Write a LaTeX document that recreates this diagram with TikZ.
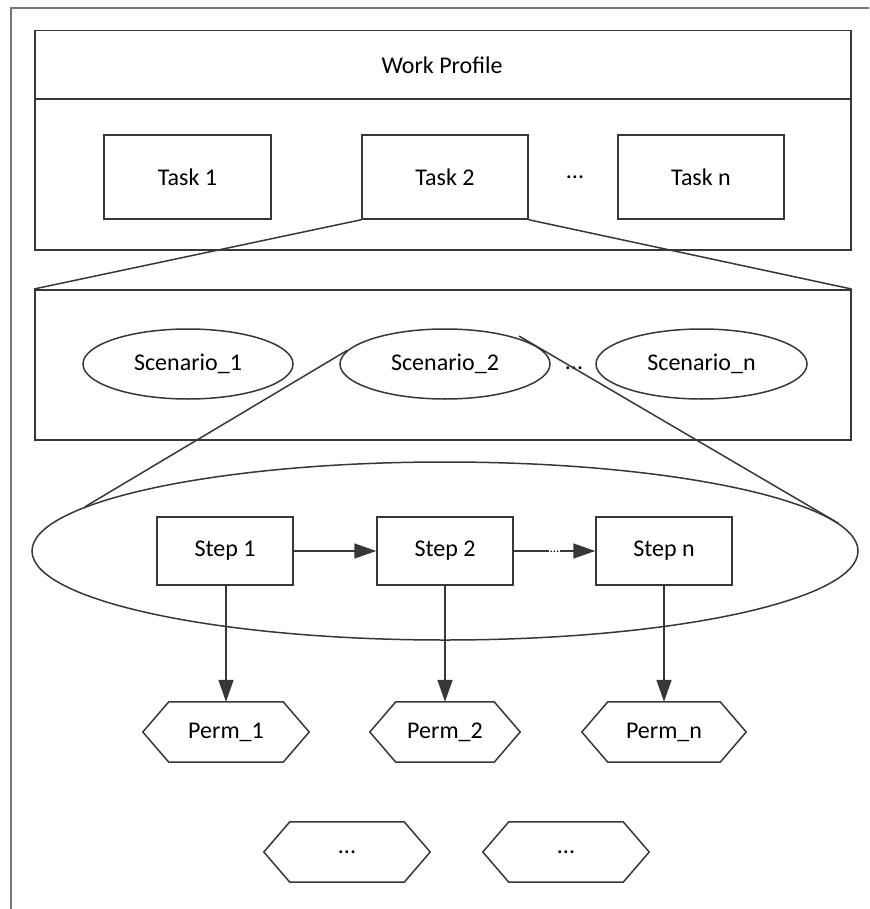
\documentclass[tikz,border=0pt]{standalone}
\usepackage{fontspec}
\setmainfont{Carlito}
\usetikzlibrary{arrows.meta,shapes.geometric}
\definecolor{edgegray}{RGB}{55,55,55}
\definecolor{framegray}{RGB}{120,120,120}
\begin{document}
\begin{tikzpicture}[x=1pt,y=-1pt,
  txt/.style={font=\fontsize{24}{28}\selectfont},
  plain/.style={draw=edgegray,line width=1.5pt},
  panel/.style={plain,rectangle,inner sep=0pt,anchor=north west},
  stepbox/.style={plain,rectangle,inner sep=0pt,txt},
  scen/.style={plain,ellipse,inner sep=0pt,minimum width=210pt,minimum height=70pt,txt},
  hexslot/.style={rectangle,inner sep=0pt,minimum width=166pt,minimum height=60pt,txt},
  flow/.style={plain,-{Triangle[length=22pt,width=15pt]}},
]
\useasboundingbox (0,0) rectangle (869,909);

% outer page frame (runs off the right and bottom edges)
\begin{scope}
\clip (0,0) rectangle (869,909);
\draw[framegray,line width=2.2pt] (11,920) -- (11,8) -- (880,8);
\end{scope}

% work profile panel
\node[panel,minimum width=816pt,minimum height=219pt] (wp) at (34,30) {};
\coordinate (hdl) at (34,99);
\coordinate (hdr) at (850,99);
\draw[plain] (hdl) -- (hdr);
\node[txt] (wptitle) at (442,65) {Work Profile};

\node[stepbox,minimum width=167pt,minimum height=84pt] (t1) at (187.5,177) {Task 1};
\node[stepbox,minimum width=166pt,minimum height=84pt] (t2) at (445,177) {Task 2};
\node[txt] (tdots) at (575,177) {...};
\node[stepbox,minimum width=166pt,minimum height=84pt] (tn) at (701,177) {Task n};

% scenario panel
\node[panel,minimum width=816pt,minimum height=150pt] (sp) at (34,289) {};
\draw[plain] (t2.south west) -- (sp.north west);
\draw[plain] (t2.south east) -- (sp.north east);

\node[scen] (s1) at (188,364) {Scenario\_1};
\node[scen] (s2) at (445,364) {Scenario\_2};
\node[txt] (sdots) at (574,368) {...};
\node[scen,minimum width=211pt] (sn) at (701.5,364) {Scenario\_n};

% steps of one scenario
\node[plain,ellipse,inner sep=0pt,minimum width=826pt,minimum height=178pt] (big) at (445,551) {};
\coordinate (s2r) at (519,336);
\draw[plain] (s2.172) -- (big.173.4);
\draw[plain] (s2r) -- (big.4.75);

\node[stepbox,minimum width=136pt,minimum height=68pt] (st1) at (225,551) {Step 1};
\node[stepbox,minimum width=136pt,minimum height=68pt] (st2) at (445,551) {Step 2};
\node[stepbox,minimum width=136pt,minimum height=68pt] (stn) at (664,551) {Step n};

\draw[flow] (st1) -- (st2);
\draw[flow] (st2) -- node[fill=white,inner sep=1pt,font=\fontsize{13}{15}\selectfont,yshift=-1pt] (adots) {...} (stn);

% permissions
\node[hexslot] (p1) at (226,732) {Perm\_1};
\node[hexslot,minimum width=150pt] (p2) at (445,732) {Perm\_2};
\node[hexslot,minimum width=164pt] (pn) at (664,732) {Perm\_n};
\node[hexslot] (q1) at (347,852) {...};
\node[hexslot] (q2) at (566,852) {...};

\foreach \h in {p1,p2,pn,q1,q2}{
  \draw[plain,line join=miter]
    (\h.west) -- ([xshift=26pt]\h.north west) -- ([xshift=-26pt]\h.north east)
    -- (\h.east) -- ([xshift=-26pt]\h.south east) -- ([xshift=26pt]\h.south west) -- cycle;
}

\draw[flow] (st1.south -| p1) -- (p1.north);
\draw[flow] (st2.south) -- (p2.north);
\draw[flow] (stn.south -| pn) -- (pn.north);
\end{tikzpicture}
\end{document}
